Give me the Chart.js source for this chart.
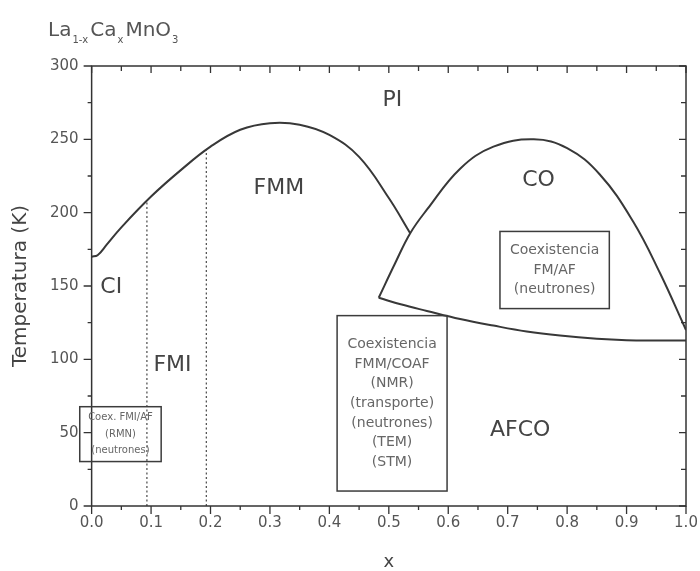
<!DOCTYPE html>
<html>
<head>
<meta charset="utf-8">
<script src="https://cdn.jsdelivr.net/npm/chart.js@4.4.1/dist/chart.umd.min.js"></script>
<style>
  html, body { margin: 0; padding: 0; background: #fff; }
  #wrap { width: 700px; height: 571px; }
</style>
</head>
<body>
<div id="wrap"><canvas id="grafico" width="700" height="571"></canvas></div>
<script>
// curva FMM / PI (temperatura de Curie)
const fmmX = [0, 0.01, 0.025, 0.05, 0.1, 0.15, 0.2, 0.25, 0.3, 0.35, 0.4, 0.45, 0.5, 0.536];
const fmmT = [170, 171, 178, 190, 211, 229, 245, 256.5, 261, 260, 253, 238, 210, 186];

// domo CO (borde superior e inferior)
const coSupX = [0.483, 0.51, 0.536, 0.564, 0.62, 0.676, 0.744, 0.8, 0.855, 0.911, 0.956, 1.0];
const coSupT = [142, 165, 186, 202, 230, 245, 250, 244, 226, 194, 159, 120];
const coInfX = [0.483, 0.52, 0.564, 0.62, 0.676, 0.732, 0.788, 0.85, 0.9, 0.95, 1.0];
const coInfT = [142, 137.5, 133, 127.5, 123, 119, 116.2, 114, 113, 112.8, 112.8];

// lineas punteadas FMI
const punt1X = [0.093, 0.093];
const punt1T = [0, 208];
const punt2X = [0.193, 0.193];
const punt2T = [0, 243];

// ticks
const xTicks = [0, 0.1, 0.2, 0.3, 0.4, 0.5, 0.6, 0.7, 0.8, 0.9, 1.0];
const xMinor = [0.05, 0.15, 0.25, 0.35, 0.45, 0.55, 0.65, 0.75, 0.85, 0.95];
const yTicks = [0, 50, 100, 150, 200, 250, 300];
const yMinor = [25, 75, 125, 175, 225, 275];

// etiquetas de regiones
const regioes = [
  { texto: 'PI', x: 0.506, y: 276.5 },
  { texto: 'FMM', x: 0.315, y: 216.4 },
  { texto: 'CO', x: 0.752, y: 222 },
  { texto: 'CI', x: 0.033, y: 149.2 },
  { texto: 'FMI', x: 0.136, y: 95.7 },
  { texto: 'AFCO', x: 0.721, y: 51.3 }
];

// cajas de coexistencia
const caixas = [
  { x0: -0.02, x1: 0.117, y0: 67.7, y1: 30.3, fonte: 10, passo: 16.7,
    linhas: ['Coex. FMI/AF', '(RMN)', '(neutrones)'] },
  { x0: 0.413, x1: 0.598, y0: 129.8, y1: 10.2, fonte: 14, passo: 19.7,
    linhas: ['Coexistencia', 'FMM/COAF', '(NMR)', '(transporte)', '(neutrones)', '(TEM)', '(STM)'] },
  { x0: 0.687, x1: 0.871, y0: 187.2, y1: 134.6, fonte: 14, passo: 19.7,
    linhas: ['Coexistencia', 'FM/AF', '(neutrones)'] }
];

const FONTE = '"DejaVu Sans", "Liberation Sans", sans-serif';

function pares(xs, ys) {
  return xs.map((v, i) => ({ x: v, y: ys[i] }));
}

function curva(xs, ys) {
  return {
    data: pares(xs, ys),
    borderColor: '#383838',
    borderWidth: 2,
    pointRadius: 0,
    tension: 0.4,
    fill: false
  };
}

function pontilhado(xs, ys) {
  return {
    data: pares(xs, ys),
    borderColor: '#555',
    borderWidth: 1.3,
    borderDash: [2, 2.5],
    pointRadius: 0,
    fill: false
  };
}

const molduraPlugin = {
  id: 'moldura',
  afterDraw(chart) {
    const { ctx, chartArea: a, scales: { x, y } } = chart;
    ctx.save();
    ctx.strokeStyle = '#333';
    ctx.lineWidth = 1.5;
    ctx.strokeRect(a.left, a.top, a.right - a.left, a.bottom - a.top);

    ctx.lineWidth = 1.3;
    ctx.beginPath();
    xTicks.concat(xMinor).forEach(v => {
      const px = x.getPixelForValue(v);
      const maior = xTicks.includes(v);
      ctx.moveTo(px, a.bottom);
      ctx.lineTo(px, a.bottom + (maior ? 8 : 4));
      ctx.moveTo(px, a.top);
      ctx.lineTo(px, a.top + (maior ? 7 : 5));
    });
    yTicks.concat(yMinor).forEach(v => {
      const py = y.getPixelForValue(v);
      const maior = yTicks.includes(v);
      ctx.moveTo(a.left, py);
      ctx.lineTo(a.left - (maior ? 8 : 4), py);
      ctx.moveTo(a.right, py);
      ctx.lineTo(a.right - (maior ? 7 : 5), py);
    });
    ctx.stroke();

    // cajas
    caixas.forEach(c => {
      const l = x.getPixelForValue(c.x0), r = x.getPixelForValue(c.x1);
      const t = y.getPixelForValue(c.y0), b = y.getPixelForValue(c.y1);
      ctx.strokeStyle = '#3c3c3c';
      ctx.lineWidth = 1.5;
      ctx.strokeRect(l, t, r - l, b - t);
      ctx.fillStyle = '#666';
      ctx.font = c.fonte + 'px ' + FONTE;
      ctx.textAlign = 'center';
      ctx.textBaseline = 'middle';
      const meio = (t + b) / 2;
      const n = c.linhas.length;
      c.linhas.forEach((txt, i) => {
        ctx.fillText(txt, (l + r) / 2, meio + (i - (n - 1) / 2) * c.passo);
      });
    });

    // regiones
    ctx.fillStyle = '#444';
    ctx.font = '22px ' + FONTE;
    ctx.textAlign = 'center';
    ctx.textBaseline = 'middle';
    regioes.forEach(r => {
      ctx.fillText(r.texto, x.getPixelForValue(r.x), y.getPixelForValue(r.y));
    });

    // titulo La1-xCaxMnO3
    const partes = [['La', 0], ['1-x', 1], ['Ca', 0], ['x', 1], ['MnO', 0], ['3', 1]];
    let cx = 48;
    ctx.textAlign = 'left';
    ctx.textBaseline = 'alphabetic';
    ctx.fillStyle = '#555';
    partes.forEach(([txt, sub]) => {
      ctx.font = (sub ? '10px ' : '20px ') + FONTE;
      ctx.fillText(txt, cx + (sub ? 1 : 0), sub ? 43 : 36);
      cx += ctx.measureText(txt).width + (sub ? 3 : 0);
    });
    ctx.restore();
  }
};

new Chart(document.getElementById('grafico'), {
  type: 'line',
  data: {
    datasets: [
      curva(fmmX, fmmT),
      curva(coSupX, coSupT),
      curva(coInfX, coInfT),
      pontilhado(punt1X, punt1T),
      pontilhado(punt2X, punt2T)
    ]
  },
  options: {
    responsive: false,
    animation: false,
    events: [],
    layout: { padding: { left: 0, right: 14, top: 66, bottom: 0 } },
    plugins: { legend: { display: false }, tooltip: { enabled: false } },
    scales: {
      x: {
        type: 'linear',
        min: 0,
        max: 1,
        afterBuildTicks: s => { s.ticks = xTicks.map(v => ({ value: v })); },
        grid: { display: false, drawTicks: true, tickLength: 8 },
        border: { display: false },
        ticks: {
          padding: 0,
          color: '#555',
          maxRotation: 0,
          font: { family: FONTE, size: 15 },
          callback: v => v.toFixed(1)
        },
        title: {
          display: true,
          text: 'x',
          color: '#444',
          font: { family: FONTE, size: 18, lineHeight: 1 },
          padding: { top: 21, bottom: 0 }
        }
      },
      y: {
        type: 'linear',
        min: 0,
        max: 300,
        afterBuildTicks: s => { s.ticks = yTicks.map(v => ({ value: v })); },
        grid: { display: false, drawTicks: false },
        border: { display: false },
        ticks: {
          padding: 13,
          color: '#555',
          font: { family: FONTE, size: 15 }
        },
        title: {
          display: true,
          text: 'Temperatura (K)',
          color: '#444',
          font: { family: FONTE, size: 20 },
          padding: { top: 9, bottom: 4 }
        }
      }
    }
  },
  plugins: [molduraPlugin]
});
</script>
</body>
</html>
